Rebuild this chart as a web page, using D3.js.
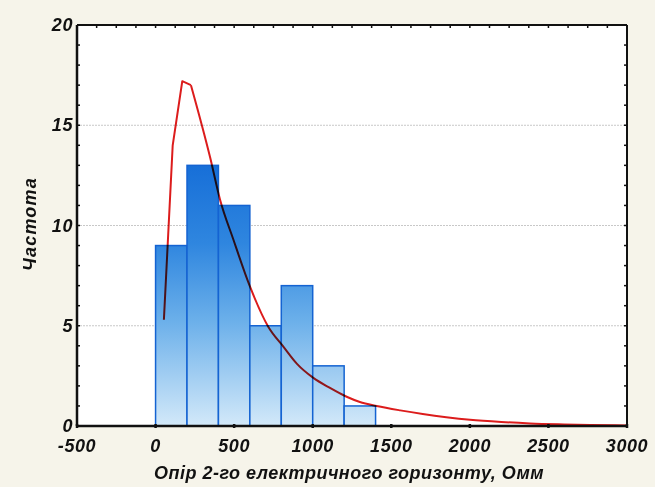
<!DOCTYPE html>
<html><head><meta charset="utf-8">
<script src="https://cdn.jsdelivr.net/npm/d3@7"></script>
<style>body{margin:0;background:#f6f4ea}svg{display:block}</style>
</head><body><svg id="c" width="655" height="487"></svg>
<script>
// ---- data ----
const binStarts = [0, 200, 400, 600, 800, 1000, 1200];
const binWidth = 200;
const counts = [9, 13, 11, 5, 7, 3, 1];
// fitted curve: sharp rising part (polyline) and smooth tail
const headX = [53, 109, 170, 225];
const headY = [5.3, 14.0, 17.2, 17.0];
const tailX = [225, 347, 410, 495, 601, 717, 813, 900, 1004, 1110, 1216, 1300, 1407, 1557, 1700, 1850, 2001, 2200, 2383, 2600, 2765, 3000];
const tailY = [17.0, 13.4, 11.3, 9.3, 6.95, 4.95, 3.96, 3.1, 2.4, 1.9, 1.46, 1.2, 1.0, 0.78, 0.6, 0.44, 0.31, 0.2, 0.13, 0.08, 0.05, 0.03];
const xTicks = [-500, 0, 500, 1000, 1500, 2000, 2500, 3000];
const yTicks = [0, 5, 10, 15, 20];
const xTitle = "Опір 2-го електричного горизонту, Омм";
const yTitle = "Частота";

const svg = d3.select("#c");
const L = 77, R = 627, T = 25, B = 426;
const x = d3.scaleLinear().domain([-500, 3000]).range([L, R]);
const y = d3.scaleLinear().domain([0, 20]).range([B, T]);

svg.append("rect").attr("width", 655).attr("height", 487).attr("fill", "#f6f4ea");
svg.append("rect").attr("x", L).attr("y", T).attr("width", R - L).attr("height", B - T).attr("fill", "#ffffff");

const defs = svg.append("defs");
const g = defs.append("linearGradient").attr("id", "bg").attr("gradientUnits", "userSpaceOnUse")
  .attr("x1", 0).attr("x2", 0).attr("y1", y(13)).attr("y2", y(0));
g.append("stop").attr("offset", 0).attr("stop-color", "#176fd8");
g.append("stop").attr("offset", 0.3).attr("stop-color", "#2f86df");
g.append("stop").attr("offset", 0.6).attr("stop-color", "#6cb0ea");
g.append("stop").attr("offset", 1).attr("stop-color", "#d3e9f9");

// gridlines
svg.append("g").selectAll("line").data(yTicks.filter(d => d > 0 && d < 20)).join("line")
  .attr("x1", L).attr("x2", R).attr("y1", d => y(d)).attr("y2", d => y(d))
  .attr("stroke", "#c8c8c8").attr("stroke-width", 1).attr("stroke-dasharray", "2,1");

// bars
svg.append("g").selectAll("rect").data(counts).join("rect")
  .attr("x", (d, i) => x(binStarts[i]))
  .attr("width", (d, i) => x(binStarts[i] + binWidth) - x(binStarts[i]))
  .attr("y", d => y(d)).attr("height", d => y(0) - y(d))
  .attr("fill", "url(#bg)").attr("stroke", "#1463d2").attr("stroke-width", 1.5);

// curve
const cg = svg.append("g").style("mix-blend-mode", "multiply");
cg.append("path").datum(headX.map((v, i) => [v, headY[i]]))
  .attr("d", d3.line().x(d => x(d[0])).y(d => y(d[1])))
  .attr("fill", "none").attr("stroke", "#dc1c1c").attr("stroke-width", 2).attr("stroke-linejoin", "round");
cg.append("path").datum(tailX.map((v, i) => [v, tailY[i]]))
  .attr("d", d3.line().curve(d3.curveMonotoneX).x(d => x(d[0])).y(d => y(d[1])))
  .attr("fill", "none").attr("stroke", "#dc1c1c").attr("stroke-width", 2);

// axes frame
const ax = svg.append("g");
ax.append("line").attr("x1", L).attr("x2", L).attr("y1", T).attr("y2", B).attr("stroke", "#111").attr("stroke-width", 2.5);
ax.append("line").attr("x1", L).attr("x2", R).attr("y1", B).attr("y2", B).attr("stroke", "#111").attr("stroke-width", 2.5);
ax.append("line").attr("x1", L).attr("x2", R).attr("y1", T).attr("y2", T).attr("stroke", "#111").attr("stroke-width", 2);
ax.append("line").attr("x1", R).attr("x2", R).attr("y1", T).attr("y2", B).attr("stroke", "#111").attr("stroke-width", 2);

// minor ticks
const yMinor = d3.range(0, 21, 1);
ax.append("g").selectAll("line").data(yMinor).join("line")
  .attr("x1", L).attr("x2", L + 3).attr("y1", d => y(d)).attr("y2", d => y(d)).attr("stroke", "#111").attr("stroke-width", 1.5);
ax.append("g").selectAll("line").data(yMinor).join("line")
  .attr("x1", R - 3).attr("x2", R).attr("y1", d => y(d)).attr("y2", d => y(d)).attr("stroke", "#111").attr("stroke-width", 1.5);
const xMinor = d3.range(-500, 3001, 125);
ax.append("g").selectAll("line").data(xMinor).join("line")
  .attr("x1", d => x(d)).attr("x2", d => x(d)).attr("y1", T).attr("y2", T + 3).attr("stroke", "#111").attr("stroke-width", 1.5);
ax.append("g").selectAll("line").data(xTicks).join("line")
  .attr("x1", d => x(d)).attr("x2", d => x(d)).attr("y1", B - 2).attr("y2", B + 2).attr("stroke", "#111").attr("stroke-width", 2.5);

const font = "'Liberation Sans', Arial, sans-serif";
function styleText(s, size, ls) {
  return s.attr("font-family", font).attr("font-weight", "bold").attr("font-style", "italic")
    .attr("font-size", size).attr("letter-spacing", ls).attr("fill", "#111");
}
// tick labels
styleText(svg.append("g").selectAll("text").data(xTicks).join("text")
  .attr("x", d => x(d)).attr("y", 452).attr("text-anchor", "middle").text(d => d), 18, 0.6);
styleText(svg.append("g").selectAll("text").data(yTicks).join("text")
  .attr("x", 73).attr("y", d => y(d) + 6).attr("text-anchor", "end").text(d => d), 18, 0.6);

// titles
styleText(svg.append("text").attr("x", 349).attr("y", 479).attr("text-anchor", "middle").text(xTitle), 18, 0.5);
styleText(svg.append("text").attr("transform", "translate(36,224) rotate(-90)").attr("text-anchor", "middle").text(yTitle), 18, 1.2);
</script></body></html>
